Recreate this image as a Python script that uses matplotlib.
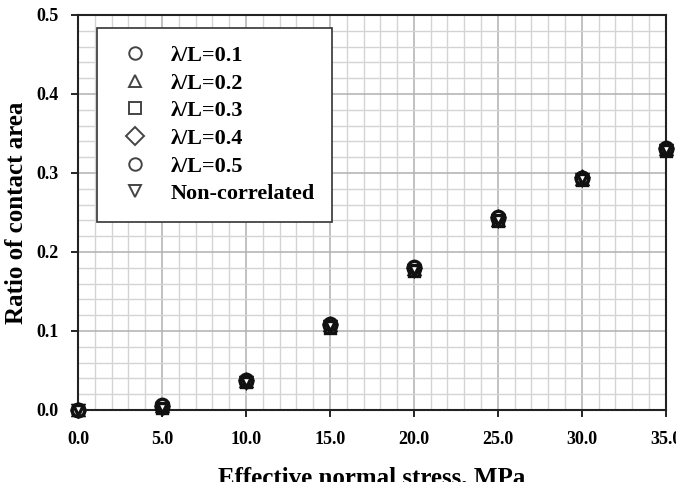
import matplotlib.pyplot as plt
from matplotlib.ticker import MultipleLocator, FormatStrFormatter

plt.rcParams['font.family'] = ['Liberation Serif', 'DejaVu Serif']
plt.rcParams['font.weight'] = 'bold'

# effective normal stress (MPa)
stress = [0, 5, 10, 15, 20, 25, 30, 35]

# ratio of contact area for each correlation length
ratio_01 = [0.000, 0.004, 0.037, 0.108, 0.180, 0.243, 0.294, 0.330]
ratio_02 = [0.000, 0.005, 0.037, 0.107, 0.179, 0.241, 0.293, 0.330]
ratio_03 = [0.000, 0.003, 0.036, 0.104, 0.176, 0.239, 0.291, 0.328]
ratio_04 = [0.000, 0.005, 0.038, 0.109, 0.180, 0.244, 0.295, 0.331]
ratio_05 = [0.000, 0.006, 0.038, 0.109, 0.181, 0.244, 0.294, 0.331]
ratio_nc = [0.000, 0.003, 0.036, 0.106, 0.177, 0.240, 0.292, 0.329]

labels = ['λ/L=0.1', 'λ/L=0.2', 'λ/L=0.3', 'λ/L=0.4', 'λ/L=0.5', 'Non-correlated']
series = [ratio_01, ratio_02, ratio_03, ratio_04, ratio_05, ratio_nc]
markers = ['o', '^', 's', 'D', 'o', 'v']
sizes = [9, 7, 6.5, 6.5, 9, 7]

fig = plt.figure(figsize=(6.76, 4.82), dpi=100)
ax = fig.add_axes([0.1154, 0.1494, 0.8695, 0.8195])

for vals, lab, m, s in zip(series, labels, markers, sizes):
    ax.plot(stress, vals, linestyle='none', marker=m, markersize=s,
            markerfacecolor='white', markeredgecolor='#111111',
            markeredgewidth=2.4, label=lab, clip_on=False, zorder=3)

ax.set_xlim(0, 35)
ax.set_ylim(0, 0.5)
ax.xaxis.set_major_locator(MultipleLocator(5))
ax.xaxis.set_minor_locator(MultipleLocator(1))
ax.yaxis.set_major_locator(MultipleLocator(0.1))
ax.yaxis.set_minor_locator(MultipleLocator(0.02))
ax.xaxis.set_major_formatter(FormatStrFormatter('%.1f'))
ax.yaxis.set_major_formatter(FormatStrFormatter('%.1f'))

ax.grid(which='major', color='#b0b0b0', linewidth=1.1)
ax.grid(which='minor', color='#d4d4d4', linewidth=1.0)
ax.set_axisbelow(True)

for sp in ax.spines.values():
    sp.set_linewidth(1.5)
    sp.set_color('#222222')

ax.tick_params(which='major', direction='out', length=5, width=1.2,
               labelsize=13, pad=10)
ax.tick_params(which='minor', length=0)
ax.tick_params(axis='y', pad=9)

ax.set_xlabel('Effective normal stress, MPa', fontsize=18, fontweight='bold',
              labelpad=13)
ax.set_ylabel('Ratio of contact area', fontsize=18, fontweight='bold',
              labelpad=6)

leg = ax.legend(loc='upper left', bbox_to_anchor=(0.032, 0.967), fontsize=16,
                frameon=True, fancybox=False, borderpad=0.78, labelspacing=0.32,
                handletextpad=0.65, borderaxespad=0, handlelength=1.9)
leg.get_frame().set_edgecolor('#333333')
leg.get_frame().set_linewidth(1.2)
leg.get_frame().set_alpha(1)
for h in leg.legend_handles:
    h.set_markeredgecolor('#444444')
    h.set_markeredgewidth(1.4)
    h.set_markersize(9)

fig.savefig('out.png', dpi=100)
